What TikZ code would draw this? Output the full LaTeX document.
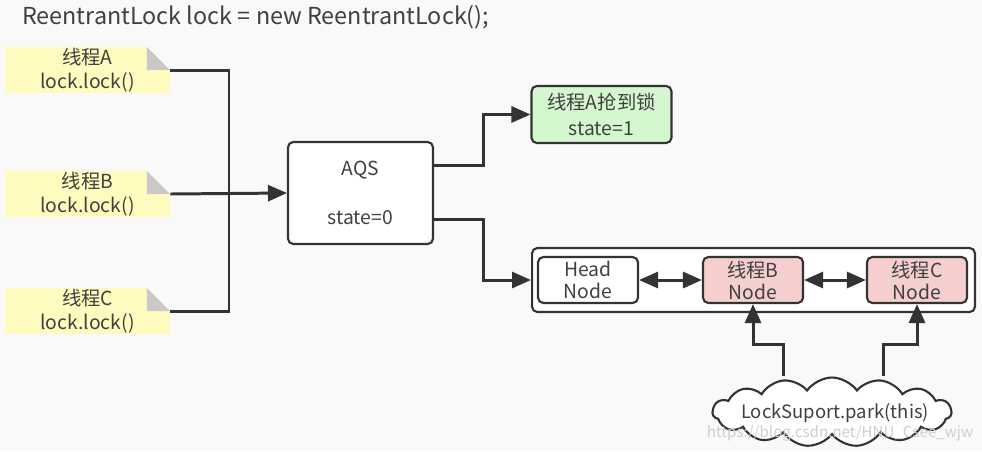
\documentclass[tikz,border=0pt]{standalone}
\usepackage{fontspec}
\setmainfont{Noto Sans CJK SC}
\usetikzlibrary{arrows.meta, positioning, shapes.symbols}
\definecolor{lkbg}{HTML}{F9F9F9}
\definecolor{lkline}{HTML}{333333}
\definecolor{lktext}{HTML}{404040}
\definecolor{lkyellow}{HTML}{FFFBBE}
\definecolor{lkfold}{HTML}{C9C9C9}
\definecolor{lkgreen}{HTML}{D5F7CF}
\definecolor{lkpink}{HTML}{F5CFCD}
\definecolor{lkmark}{HTML}{CFCFCF}

\begin{document}
\begin{tikzpicture}[x=0.02cm, y=-0.02cm,
  every node/.style={text=lktext, font=\fontsize{11}{13.5}\selectfont},
  note/.style={rectangle, fill=lkyellow, minimum width=3.3cm, minimum height=0.92cm, align=center, inner sep=0pt,
    path picture={
      \fill[lkbg] ([xshift=-0.46cm]path picture bounding box.north east) -- (path picture bounding box.north east)
        -- ([yshift=-0.46cm]path picture bounding box.north east) -- cycle;
      \fill[lkfold] ([xshift=-0.46cm]path picture bounding box.north east) -- ([xshift=-0.46cm,yshift=-0.46cm]path picture bounding box.north east)
        -- ([yshift=-0.46cm]path picture bounding box.north east) -- cycle;}},
  box/.style={rectangle, rounded corners=3pt, draw=lkline, line width=1.2pt, align=center, inner sep=0pt, fill=#1},
  box/.default=white,
  qnode/.style={box=#1, minimum width=2cm, minimum height=0.92cm, font=\fontsize{11}{12.5}\selectfont},
  link/.style={draw=lkline, line width=1.7pt},
  arr/.style={link, -{Triangle[length=0.38cm, width=0.32cm]}},
  dbl/.style={link, {Triangle[length=0.38cm, width=0.32cm]}-{Triangle[length=0.38cm, width=0.32cm]}},
]
  \fill[lkbg] (0,0) rectangle (982,451);
  \useasboundingbox (0,0) rectangle (982,451);

  \node[anchor=west, font=\fontsize{13.3}{15}\selectfont] (title) at (16,17) {ReentrantLock lock = new ReentrantLock();};

  % threads calling lock()
  \node[note] (na) at (87.5,70) {线程A\\lock.lock()};
  \node[note] (nb) at (87.5,194) {线程B\\lock.lock()};
  \node[note] (nc) at (87.5,311) {线程C\\lock.lock()};

  \node[box, minimum width=2.9cm, minimum height=2.04cm] (aqs) at (360.5,193) {AQS\\[14pt]state=0};
  \node[box=lkgreen, minimum width=2.8cm, minimum height=1.14cm, font=\fontsize{11}{14.5}\selectfont] (own) at (601.5,114.5) {线程A抢到锁\\state=1};

  % wait queue
  \node[box, minimum width=8.86cm, minimum height=1.28cm] (queue) at (753.5,280) {};
  \node[qnode] (head) at (588,280) {Head\\Node};
  \node[qnode=lkpink] (qb) at (753,280) {线程B\\Node};
  \node[qnode=lkpink] (qc) at (917,280) {线程C\\Node};

  % park cloud
  \node[cloud, draw=lkline, line width=1.2pt, fill=white, cloud puffs=15, cloud puff arc=110, cloud ignores aspect,
    minimum width=4.78cm, minimum height=1.38cm, inner sep=0pt] (park) at (832,412) {};
  \node[font=\fontsize{10.5}{12}\selectfont] (parktext) at (835,413) {LockSuport.park(this)};
  \node[text=lkmark, font=\fontsize{8.6}{10}\selectfont] (mark) at (840,433) {https://blog.csdn.net/HNU\_Csee\_wjw};

  % connectors
  \coordinate (join) at (229,194);
  \draw[link] (na.east) -| (join);
  \draw[link] (nc.east) -| (join);
  \draw[arr] (nb.east) -- (aqs.west);

  \draw[arr] ([yshift=0.56cm]aqs.east) -- ++(49,0) |- (own.west);
  \draw[arr] ([yshift=-0.52cm]aqs.east) -- ++(49,0) |- (queue.west);

  \draw[dbl] (head.east) -- (qb.west);
  \draw[dbl] (qb.east) -- (qc.west);

  \draw[arr] ([xshift=-0.98cm]park.north) |- ([yshift=-0.8cm]qb.south) -- (qb.south);
  \draw[arr] ([xshift=1.02cm]park.north) |- ([yshift=-0.8cm]qc.south) -- (qc.south);
\end{tikzpicture}
\end{document}
